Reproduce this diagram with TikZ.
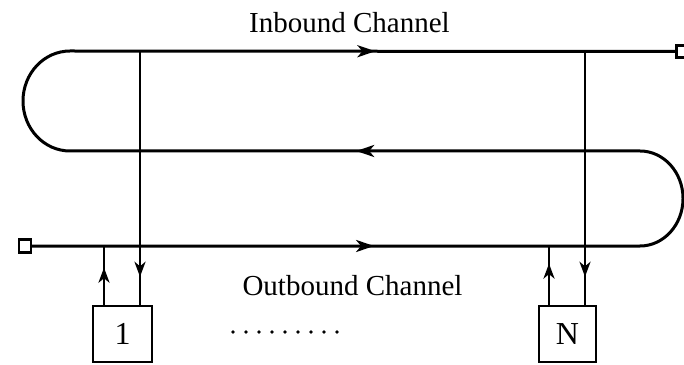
\documentclass[tikz,border=0pt]{standalone}
\usepackage{fontspec}
\setmainfont{Liberation Serif}
\usetikzlibrary{arrows.meta,decorations.markings}
\tikzset{
  hhead/.tip={Stealth[length=18pt,width=12pt,inset=5pt]},
  vhead/.tip={Stealth[length=15pt,width=11pt,inset=4.5pt]},
  chan/.style={line width=3pt, line join=round},
  vline/.style={line width=2.8pt},
  term/.style={draw, line width=2.2pt, minimum width=12pt, minimum height=13pt, inner sep=0pt},
  station/.style={draw, line width=2.6pt, minimum height=56pt, inner sep=0pt, font=\fontsize{32}{38}\selectfont},
  lbl/.style={anchor=base, inner sep=0pt, font=\fontsize{29}{34}\selectfont},
  dotmark/.style={fill=black},
  markat/.style={postaction={decorate, decoration={markings, mark=at position #1 with {\arrow{vhead}}}}}
}
\begin{document}
\begin{tikzpicture}[x=1pt,y=1pt]
\useasboundingbox (0,0) rectangle (684,364);
% terminals
\node[term] (sqL) at (25,118) {};
\node[term, minimum width=11pt, minimum height=12pt] (sqR) at (682,312.5) {};
% stations
\node[station, minimum width=59pt] (b1) at (122.5,30) {1};
\node[station, minimum width=57pt] (bN) at (567.5,30) {N};
% channel loop
\draw[chan, postaction={decorate, decoration={markings,
    mark=at position 342pt with {\arrow{hhead}},
    mark=at position 1034pt with {\arrow{hhead}},
    mark=at position 1778pt with {\arrow{hhead}}}}]
  (sqL.east) -- (640,118)
  arc[start angle=-90, end angle=90, x radius=43, y radius=47.5]
  -- (70,213)
  arc[start angle=270, end angle=90, x radius=47, y radius=50]
  -- (sqR.west);
% taps
\coordinate (tA) at (140,313);
\coordinate (tB) at (585,313);
\coordinate (oA) at (104,118);
\coordinate (oB) at (549,118);
\draw[vline, markat=0.89] (tA) -- (tA |- b1.north);
\draw[vline, markat=0.63] (oA |- b1.north) -- (oA);
\draw[vline, markat=0.89] (tB) -- (tB |- bN.north);
\draw[vline, markat=0.70] (oB |- bN.north) -- (oB);
% labels
\node[lbl] (inb) at (349.5,331) {Inbound Channel};
\node[lbl] (outb) at (352.5,69) {Outbound Channel};
% dots
\foreach \i in {0,...,8} {
  \fill[dotmark] (233+13*\i,32) circle (1.8);
}
\end{tikzpicture}
\end{document}
